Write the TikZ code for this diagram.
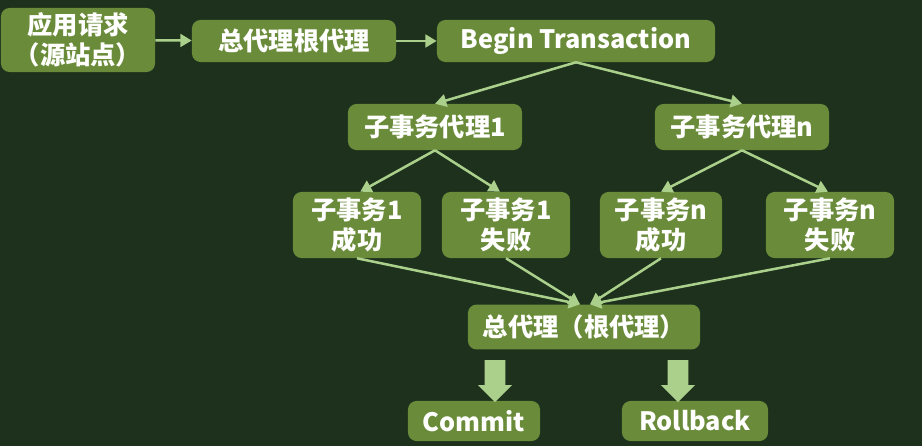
\documentclass[tikz,border=0pt]{standalone}
\usepackage{fontspec}
\setmainfont{Noto Sans CJK SC}
\usepackage{tikz}
\usetikzlibrary{arrows.meta,shapes.arrows,calc}
\definecolor{bgcol}{RGB}{29,49,28}
\definecolor{boxcol}{RGB}{106,140,58}
\definecolor{arrcol}{RGB}{170,208,140}
\tikzset{
  flowbox/.style={fill=boxcol, rounded corners=6pt, text=white, align=center,
                  inner sep=0pt, font=\fontsize{18}{21}\selectfont\bfseries},
  flowarr/.style={-{Triangle[length=8pt,width=9pt]}, draw=arrcol, line width=1.8pt},
  bigarr/.style={single arrow, fill=arrcol, draw=none, shape border rotate=270,
                 minimum height=1.05cm, inner sep=0.25cm,
                 single arrow head extend=0.17cm, single arrow tip angle=90},
}

\begin{document}
\begin{tikzpicture}[x=0.025cm, y=-0.025cm]
  \fill[bgcol] (0,0) rectangle (922,446);
  \useasboundingbox (0,0) rectangle (922,446);
  % top row
  \node[flowbox, minimum width=3.85cm, minimum height=1.6cm] (req) at (78,40)
    {应用请求\\（源站点）};
  \node[flowbox, minimum width=5.1cm, minimum height=1.05cm] (root) at (294,41)
    {总代理根代理};
  \node[flowbox, minimum width=6.95cm, minimum height=1.05cm] (begin) at (576,41)
    {Begin Transaction};
  % sub transaction agents
  \node[flowbox, minimum width=4.35cm, minimum height=1.15cm] (sub1) at (435,127)
    {子事务代理1};
  \node[flowbox, minimum width=4.35cm, minimum height=1.15cm] (subn) at (742,127)
    {子事务代理n};
  % results
  \node[flowbox, minimum width=3.2cm, minimum height=1.65cm] (ok1) at (357,225)
    {子事务1\\成功};
  \node[flowbox, minimum width=3.2cm, minimum height=1.65cm] (fail1) at (506,225)
    {子事务1\\失败};
  \node[flowbox, minimum width=3.05cm, minimum height=1.65cm] (okn) at (661,225)
    {子事务n\\成功};
  \node[flowbox, minimum width=3.2cm, minimum height=1.65cm] (failn) at (830,225)
    {子事务n\\失败};
  % root agent and outcome
  \node[flowbox, minimum width=5.8cm, minimum height=1.12cm] (agg) at (584,327)
    {总代理（根代理）};
  \node[flowbox, minimum width=3.3cm, minimum height=1cm] (commit) at (474,421)
    {Commit};
  \node[flowbox, minimum width=3.65cm, minimum height=1cm] (rollback) at (695,421)
    {Rollback};
  \node[bigarr] (tocommit) at (495,376) {};
  \node[bigarr] (torollback) at (678,376) {};

  \draw[flowarr] (req) -- (root);
  \draw[flowarr] (root) -- (begin);
  \draw[flowarr] (begin.south) -- (sub1.north);
  \draw[flowarr] (begin.south) -- (subn.north);
  \draw[flowarr] (sub1.south) -- ([xshift=0.08cm]ok1.north);
  \draw[flowarr] (sub1.south) -- ([xshift=-0.15cm]fail1.north);
  \draw[flowarr] (subn.south) -- (okn.north);
  \draw[flowarr] (subn.south) -- ([xshift=-0.05cm]failn.north);
  \draw[flowarr] (ok1.south) -- ([xshift=-0.1cm]agg.north);
  \draw[flowarr] (fail1.south) -- ([xshift=-0.1cm]agg.north);
  \draw[flowarr] (okn.south) -- ([xshift=0.15cm]agg.north);
  \draw[flowarr] (failn.south) -- ([xshift=0.15cm]agg.north);
\end{tikzpicture}
\end{document}
